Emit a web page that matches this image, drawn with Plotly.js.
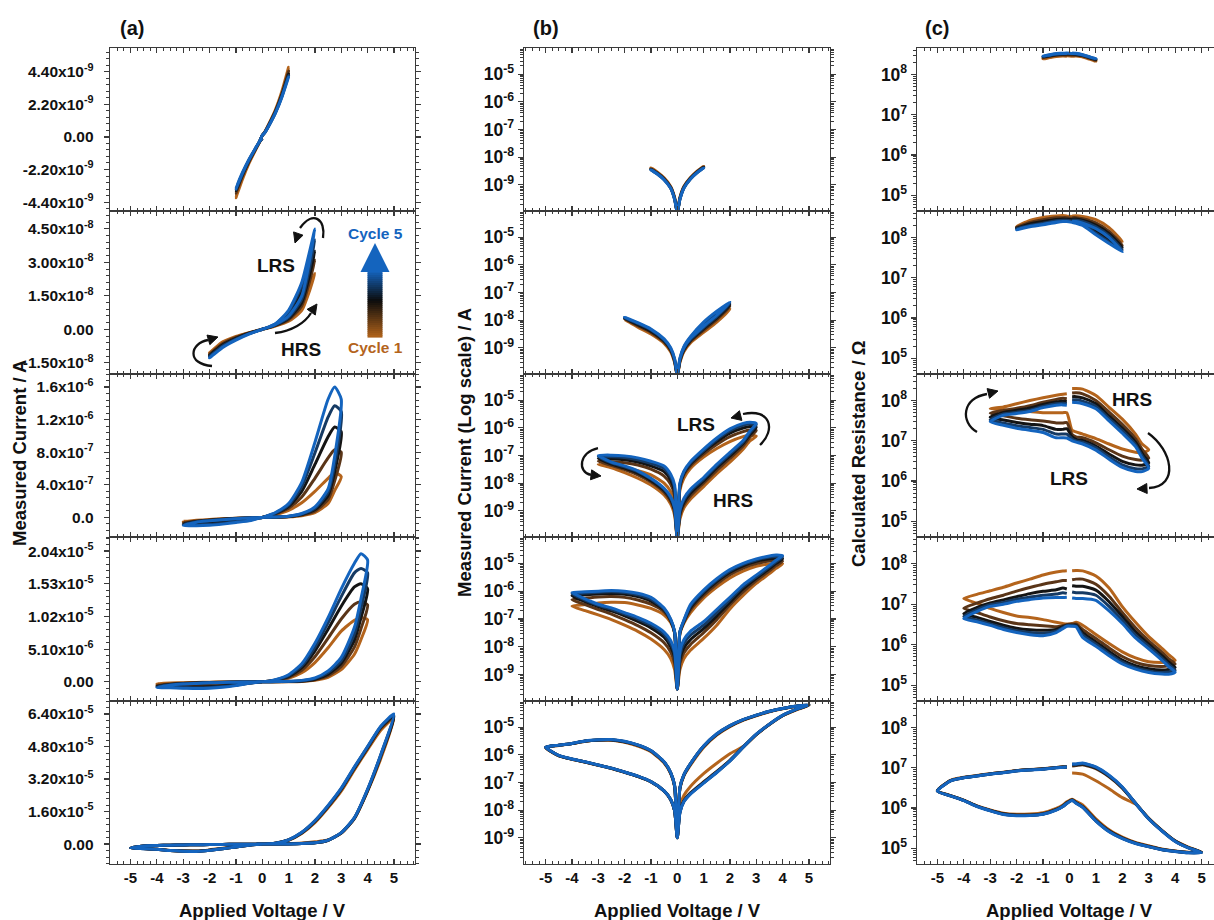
<!DOCTYPE html>
<html><head><meta charset="utf-8">
<script src="https://cdn.plot.ly/plotly-3.0.1.min.js"></script>
<style>html,body{margin:0;padding:0;background:#fff}#chart{width:1214px;height:920px}</style>
</head><body><div id="chart"></div>
<script>
// ================= DATA (applied voltage in V, measured current in nA) =================
const cycleNames = ['Cycle 1', 'Cycle 2', 'Cycle 3', 'Cycle 4', 'Cycle 5'];

// Row 1 : sweep to +/-1 V
const V1 = [0, .1, .25, .5, .75, 1, .75, .5, .25, .1, 0, -.1, -.25, -.5, -.75, -1, -.75, -.5, -.25, -.1, 0];
const I1_c1 = [0.1, 0.34, 0.86, 1.8, 3.05, 4.7, 3.1, 1.83, 0.87, 0.35, 0.1, -0.34, -0.86, -1.75, -2.8, -4.1, -2.85, -1.77, -0.87, -0.35, -0.1];
const I1_c2 = [0.1, 0.32, 0.82, 1.72, 2.9, 4.45, 2.93, 1.74, 0.83, 0.33, 0.1, -0.32, -0.81, -1.64, -2.62, -3.8, -2.65, -1.66, -0.82, -0.33, -0.1];
const I1_c3 = [0.1, 0.31, 0.78, 1.67, 2.8, 4.25, 2.83, 1.69, 0.79, 0.31, 0.1, -0.31, -0.78, -1.58, -2.52, -3.62, -2.55, -1.6, -0.78, -0.31, -0.1];
const I1_c4 = [0.1, 0.3, 0.76, 1.63, 2.74, 4.15, 2.77, 1.65, 0.77, 0.3, 0.1, -0.3, -0.76, -1.54, -2.46, -3.55, -2.49, -1.56, -0.76, -0.3, -0.1];
const I1_c5 = [0.1, 0.29, 0.74, 1.6, 2.7, 4.05, 2.73, 1.62, 0.75, 0.3, 0.1, -0.29, -0.74, -1.5, -2.4, -3.5, -2.44, -1.52, -0.75, -0.3, -0.1];

// Row 2 : sweep to +/-2 V
const V2 = [0, .1, .25, .5, 1, 1.5, 2, 1.5, 1, .5, .25, .1, 0, -.1, -.25, -.5, -1, -1.5, -2, -1.5, -1, -.5, -.25, -.1, 0];
const I2_c1 = [0.1, 0.29, 0.72, 1.5, 3.6, 8.5, 25, 12.5, 5.0, 1.7, 0.78, 0.3, 0.1, -0.29, -0.72, -1.48, -3.2, -5.7, -10.5, -5.6, -3.15, -1.45, -0.71, -0.29, -0.1];
const I2_c2 = [0.1, 0.32, 0.8, 1.7, 4.3, 10.5, 31, 15.5, 6.2, 1.95, 0.88, 0.33, 0.1, -0.32, -0.8, -1.65, -3.7, -6.4, -11.2, -6.3, -3.6, -1.62, -0.8, -0.32, -0.1];
const I2_c3 = [0.1, 0.35, 0.87, 1.85, 4.9, 12, 35, 17.5, 7.0, 2.15, 0.95, 0.36, 0.1, -0.35, -0.86, -1.8, -4.1, -7.0, -11.7, -6.9, -4.0, -1.77, -0.86, -0.35, -0.1];
const I2_c4 = [0.1, 0.37, 0.93, 2.0, 5.4, 13.5, 40, 19.5, 7.8, 2.35, 1.02, 0.39, 0.1, -0.37, -0.93, -1.95, -4.5, -7.6, -12.1, -7.5, -4.4, -1.92, -0.93, -0.37, -0.1];
const I2_c5 = [0.1, 0.4, 1.0, 2.2, 6.0, 15, 45, 21, 8.5, 2.5, 1.1, 0.42, 0.1, -0.4, -1.0, -2.1, -4.8, -8.1, -12.8, -8.0, -4.7, -2.05, -1.0, -0.4, -0.1];

// Row 3 : sweep to +/-3 V
const V3 = [0, .1, .25, .5, 1, 1.5, 2, 2.5, 2.75, 3, 2.75, 2.5, 2, 1.5, 1, .5, .25, .1, 0, -.1, -.25, -.5, -1, -1.5, -2, -2.5, -3, -2.5, -2, -1.5, -1, -.5, -.25, -.1, 0];
const I3_c1 = [0.1, 0.5, 1.25, 2.6, 7.5, 22, 58, 170, 330, 500, 550, 480, 320, 180, 88, 34, 15, 5.5, 0.1, -2, -5, -10, -20, -28, -36, -42, -48, -36, -24, -15, -8.5, -3.7, -1.75, -0.68, -0.1];
const I3_c2 = [0.1, 0.65, 1.6, 3.4, 10, 29, 78, 220, 450, 800, 830, 730, 480, 250, 112, 42, 20, 7, 0.1, -3.5, -9, -18, -32, -45, -55, -60, -62, -44, -31, -20, -11, -4.7, -2.2, -0.9, -0.1];
const I3_c3 = [0.1, 0.8, 2.0, 4.3, 12, 36, 96, 270, 560, 1050, 1110, 990, 650, 320, 135, 49, 23, 8, 0.1, -5, -13, -26, -42, -58, -70, -76, -78, -49, -35, -23, -12.5, -5.4, -2.6, -1.05, -0.1];
const I3_c4 = [0.1, 0.95, 2.4, 5.2, 14, 42, 112, 310, 650, 1300, 1370, 1230, 790, 380, 150, 54, 25, 9, 0.1, -6.8, -17, -34, -52, -70, -84, -90, -90, -54, -39, -26, -14, -6, -2.9, -1.2, -0.1];
const I3_c5 = [0.1, 1.1, 2.8, 6, 16, 48, 130, 350, 750, 1450, 1600, 1450, 920, 430, 170, 60, 27, 10, 0.1, -8.5, -21, -42, -62, -82, -97, -103, -100, -58, -42, -28, -15, -6.5, -3.2, -1.3, -0.1];

// Row 4 : sweep to +/-4 V
const V4 = [0, .1, .25, .5, 1, 1.5, 2, 2.5, 3, 3.5, 3.75, 4, 3.75, 3.5, 3, 2.5, 2, 1.5, 1, .5, .25, .1, 0, -.1, -.25, -.5, -1, -1.5, -2, -2.5, -3, -3.5, -4, -3.5, -3, -2.5, -2, -1.5, -1, -.5, -.25, -.1, 0];
const I4_c1 = [0.3, 1.5, 3.7, 7.5, 20, 60, 230, 700, 1900, 4300, 6600, 9700, 10000, 9600, 7900, 5300, 3000, 1400, 560, 165, 70, 30, 0.3, -31, -75, -140, -240, -320, -390, -400, -380, -330, -290, -200, -140, -95, -60, -36, -19, -8, -3.8, -1.5, -0.3];
const I4_c2 = [0.3, 2.5, 6, 12, 32, 95, 320, 950, 2400, 5400, 8300, 12000, 12500, 12100, 9800, 6800, 3900, 1800, 700, 210, 77, 31, 0.3, -32, -85, -180, -340, -480, -600, -640, -620, -560, -500, -330, -220, -150, -95, -58, -32, -14, -6.5, -2.6, -0.3];
const I4_c3 = [0.3, 3.5, 9, 18, 45, 130, 400, 1200, 2900, 6500, 10000, 14500, 15300, 14800, 11800, 8200, 4800, 2200, 850, 250, 82, 33, 0.3, -33, -90, -210, -440, -640, -780, -830, -800, -740, -680, -420, -280, -195, -130, -82, -48, -22, -10, -4.2, -0.3];
const I4_c4 = [0.3, 5, 13, 26, 60, 170, 500, 1450, 3300, 7500, 11500, 17000, 17700, 17000, 13300, 9200, 5400, 2500, 970, 290, 86, 34, 0.3, -34, -95, -230, -520, -750, -900, -950, -920, -860, -800, -480, -310, -225, -150, -100, -60, -28, -13, -5.4, -0.3];
const I4_c5 = [0.3, 7, 18, 36, 80, 220, 600, 1700, 3800, 8500, 13000, 19000, 20000, 18500, 14500, 10000, 6000, 2800, 1100, 330, 90, 35, 0.3, -35, -100, -250, -600, -850, -1000, -1050, -1000, -950, -900, -530, -340, -250, -170, -115, -70, -34, -17, -6.7, -0.3];

// Row 5 : sweep to +/-5 V
const V5 = [0, .1, .25, .5, 1, 1.5, 2, 2.5, 3, 3.5, 4, 4.5, 5, 4.5, 4, 3.5, 3, 2.5, 2, 1.5, 1, .5, .25, .1, 0, -.1, -.25, -.5, -1, -1.5, -2, -2.5, -3, -3.5, -4, -4.5, -5, -4.5, -4, -3.5, -3, -2.5, -2, -1.5, -1, -.5, -.25, -.1, 0];
const I5_c1 = [1, 13.5, 34, 72, 210, 500, 1100, 2000, 5400, 12500, 26000, 42000, 62000, 56000, 46500, 36500, 26000, 17800, 10500, 5200, 1850, 420, 170, 60, 1, -70, -210, -510, -1300, -2100, -2850, -3350, -3350, -3100, -2550, -2200, -1850, -920, -690, -545, -420, -322, -234, -166, -105, -49, -24, -9.4, -1];
const I5_c2 = [1, 9, 22, 42, 105, 250, 640, 1900, 5450, 12700, 26300, 43000, 62500, 57000, 47200, 37200, 26800, 18400, 11000, 5500, 2000, 460, 182, 62, 1, -74, -222, -540, -1380, -2220, -2970, -3470, -3430, -3130, -2570, -2220, -1870, -935, -698, -552, -423, -325, -236, -167, -106, -49.3, -24, -9.5, -1];
const I5_c3 = [1, 8.5, 21, 40, 100, 240, 620, 1900, 5500, 12800, 26500, 43500, 63000, 57500, 47500, 37500, 27000, 18600, 11200, 5600, 2040, 470, 185, 63, 1, -75, -225, -550, -1400, -2250, -3000, -3500, -3450, -3150, -2580, -2230, -1880, -940, -700, -555, -425, -326, -237, -168, -107, -49.5, -24, -9.5, -1];
const I5_c4 = [1, 8.2, 20.5, 39, 97, 235, 610, 1900, 5550, 12900, 26800, 43800, 63500, 57800, 47800, 37800, 27300, 18800, 11400, 5700, 2070, 475, 188, 64, 1, -76, -228, -555, -1415, -2280, -3060, -3560, -3480, -3180, -2590, -2240, -1890, -945, -705, -558, -428, -328, -238, -169, -107.5, -49.8, -24.2, -9.55, -1];
const I5_c5 = [1, 8, 20, 38, 95, 230, 600, 1900, 5600, 13000, 27000, 44000, 64000, 58000, 48000, 38000, 27500, 19000, 11500, 5800, 2100, 480, 190, 65, 1, -77, -230, -560, -1430, -2300, -3100, -3600, -3500, -3200, -2600, -2250, -1900, -950, -710, -560, -430, -330, -240, -170, -108, -50, -24.5, -9.6, -1];

// tick values / labels
const xTickVals = [-5, -4, -3, -2, -1, 0, 1, 2, 3, 4, 5];
const xTickText = ['-5', '-4', '-3', '-2', '-1', '0', '1', '2', '3', '4', '5'];
const aTickVals = [
  [-4.4e-9, -2.2e-9, 0, 2.2e-9, 4.4e-9],
  [-1.5e-8, 0, 1.5e-8, 3.0e-8, 4.5e-8],
  [0, 4e-7, 8e-7, 1.2e-6, 1.6e-6],
  [0, 5.1e-6, 1.02e-5, 1.53e-5, 2.04e-5],
  [0, 1.6e-5, 3.2e-5, 4.8e-5, 6.4e-5]
];
const aTickText = [
  ['-4.40x10<sup>-9</sup>', '-2.20x10<sup>-9</sup>', '0.00', '2.20x10<sup>-9</sup>', '4.40x10<sup>-9</sup>'],
  ['-1.50x10<sup>-8</sup>', '0.00', '1.50x10<sup>-8</sup>', '3.00x10<sup>-8</sup>', '4.50x10<sup>-8</sup>'],
  ['0.0', '4.0x10<sup>-7</sup>', '8.0x10<sup>-7</sup>', '1.2x10<sup>-6</sup>', '1.6x10<sup>-6</sup>'],
  ['0.00', '5.10x10<sup>-6</sup>', '1.02x10<sup>-5</sup>', '1.53x10<sup>-5</sup>', '2.04x10<sup>-5</sup>'],
  ['0.00', '1.60x10<sup>-5</sup>', '3.20x10<sup>-5</sup>', '4.80x10<sup>-5</sup>', '6.40x10<sup>-5</sup>']
];
const bTickVals = [1e-9, 1e-8, 1e-7, 1e-6, 1e-5];
const bTickText = ['10<sup>-9</sup>', '10<sup>-8</sup>', '10<sup>-7</sup>', '10<sup>-6</sup>', '10<sup>-5</sup>'];
const cTickVals = [1e5, 1e6, 1e7, 1e8];
const cTickText = ['10<sup>5</sup>', '10<sup>6</sup>', '10<sup>7</sup>', '10<sup>8</sup>'];

// ================= STYLE / LAYOUT =================
const W = 1214, H = 920;
const FONT = 'Liberation Sans, Arial, Helvetica, sans-serif';
const colors = ['#B4641C', '#5A3518', '#141414', '#163A63', '#1464BE'];
const rowsData = [
  { V: V1, I: [I1_c1, I1_c2, I1_c3, I1_c4, I1_c5] },
  { V: V2, I: [I2_c1, I2_c2, I2_c3, I2_c4, I2_c5] },
  { V: V3, I: [I3_c1, I3_c2, I3_c3, I3_c4, I3_c5] },
  { V: V4, I: [I4_c1, I4_c2, I4_c3, I4_c4, I4_c5] },
  { V: V5, I: [I5_c1, I5_c2, I5_c3, I5_c4, I5_c5] }
];
const xPix = [[110, 415], [524, 830], [917, 1214]];
const yPix = [[48, 211], [211, 374], [374, 537], [537, 701], [701, 864]];
const xRanges = [[-5.78, 5.8], [-5.82, 5.8], [-5.77, 5.47]];
const aRanges = [[-5.0e-9, 6.0e-9], [-2.0e-8, 5.3e-8], [-2.4e-7, 1.76e-6], [-3.0e-6, 2.26e-5], [-9.8e-6, 7.04e-5]];
const aMinor = [0.44e-9, 0.3e-8, 0.8e-7, 1.02e-6, 3.2e-6];
const bRange = [-9.95, -4.05];
const cRange = [4.61, 8.66];
const bold = t => '<b>' + t + '</b>';

const traces = [];
const layout = {
  width: W, height: H, margin: { l: 0, r: 0, t: 0, b: 0 },
  paper_bgcolor: '#fff', plot_bgcolor: '#fff', showlegend: false,
  font: { family: FONT, size: 14, color: '#111' },
  annotations: [], shapes: []
};
const AX = '#3a3a3a';
const tf = s => ({ family: FONT, size: s, color: '#111', weight: 'bold' });

for (let r = 0; r < 5; r++) {
  const rd = rowsData[r];
  for (let c = 0; c < 3; c++) {
    const k = r * 3 + c + 1;
    const xa = 'x' + k, ya = 'y' + k;
    for (let cy = 0; cy < 5; cy++) {
      const cur = rd.I[cy].map(v => v * 1e-9);
      let xs = [], ys = [];
      if (c === 0) { xs = rd.V; ys = cur; }
      else if (c === 1) { xs = rd.V; ys = cur.map(v => Math.abs(v)); }
      else {
        rd.V.forEach((v, i) => { if (v !== 0) { xs.push(v); ys.push(Math.abs(v / cur[i])); } });
      }
      traces.push({
        x: xs, y: ys, xaxis: xa, yaxis: ya, type: 'scatter', mode: 'lines', name: cycleNames[cy],
        line: { color: colors[cy], width: 3, shape: 'spline', smoothing: 0.6 }, hoverinfo: 'skip'
      });
    }
    const xKey = 'xaxis' + (k === 1 ? '' : k), yKey = 'yaxis' + (k === 1 ? '' : k);
    const xa_ = {
      domain: [xPix[c][0] / W, xPix[c][1] / W], range: xRanges[c], anchor: ya,
      showline: true, mirror: 'ticks', linecolor: AX, linewidth: 1.3,
      ticks: 'inside', ticklen: 5, tickwidth: 1.2, tickcolor: AX,
      showgrid: false, zeroline: false, tickfont: tf(15),
      minor: { ticks: 'inside', ticklen: 3, tickwidth: 1, tickcolor: AX, tick0: 0, dtick: 0.25, showgrid: false }
    };
    if (r === 4) {
      Object.assign(xa_, { tickmode: 'array', tickvals: xTickVals, ticktext: xTickText.map(bold), showticklabels: true });
    } else {
      Object.assign(xa_, { tickmode: 'linear', tick0: 0, dtick: 1, showticklabels: false });
    }
    layout[xKey] = xa_;
    const yDom = [1 - yPix[r][1] / H, 1 - yPix[r][0] / H];
    const yBase = {
      domain: yDom, anchor: xa, showline: true, mirror: 'ticks', linecolor: AX, linewidth: 1.3,
      ticks: 'outside', ticklen: 5, tickwidth: 1.2, tickcolor: AX, showgrid: false, zeroline: false,
      tickmode: 'array'
    };
    if (c === 0) {
      layout[yKey] = Object.assign({}, yBase, {
        range: aRanges[r], tickvals: aTickVals[r], ticktext: aTickText[r].map(bold), ticklabelstandoff: 7,
        tickfont: tf(15.5),
        minor: { ticks: 'outside', ticklen: 3, tickwidth: 1, tickcolor: AX, tick0: 0, dtick: aMinor[r], showgrid: false }
      });
    } else if (c === 1) {
      layout[yKey] = Object.assign({}, yBase, {
        type: 'log', range: bRange, tickvals: bTickVals, ticktext: bTickText.map(bold), tickfont: tf(17.5),
        minor: { ticks: 'outside', ticklen: 3, tickwidth: 1, tickcolor: AX, dtick: 'D1', showgrid: false }
      });
    } else {
      layout[yKey] = Object.assign({}, yBase, {
        type: 'log', range: cRange, tickvals: cTickVals, ticktext: cTickText.map(bold), tickfont: tf(17.5),
        minor: { ticks: 'outside', ticklen: 3, tickwidth: 1, tickcolor: AX, dtick: 'D1', showgrid: false }
      });
    }
  }
}

// ---------- text annotations (pixel positions converted to paper) ----------
function txt(text, x, y, size, color, angle) {
  layout.annotations.push({
    text: '<b>' + text + '</b>', x: x / W, y: 1 - y / H, xref: 'paper', yref: 'paper', showarrow: false,
    xanchor: 'center', yanchor: 'middle', textangle: angle || 0,
    font: { family: FONT, size: size, color: color || '#111', weight: 'bold' }
  });
}
txt('(a)', 132, 28, 20); txt('(b)', 546, 28, 20); txt('(c)', 937, 28, 20);
txt('Measured Current / A', 19, 453, 18.5, '#111', -90);
txt('Measured Current (Log scale) / A', 464, 453, 18.5, '#111', -90);
txt('Calculated Resistance / \u03A9', 859, 454, 18.5, '#111', -90);
txt('Applied Voltage / V', 262, 910, 18.5);
txt('Applied Voltage / V', 677, 910, 18.5);
txt('Applied Voltage / V', 1069, 910, 18.5);
txt('LRS', 276, 265, 19); txt('HRS', 301, 349, 19);
txt('Cycle 5', 375, 233, 15.5, '#1464BE'); txt('Cycle 1', 375, 347, 15.5, '#B4641C');
txt('LRS', 696, 425, 19); txt('HRS', 733, 500, 19);
txt('HRS', 1132, 400, 19); txt('LRS', 1069, 478, 19);

// ---------- curved arrows ----------
function pp(x, y) { return (x / W).toFixed(5) + ',' + (1 - y / H).toFixed(5); }
function curve(p0, c1, c2, p1) {
  layout.shapes.push({
    type: 'path', xref: 'paper', yref: 'paper', layer: 'above',
    path: 'M' + pp(p0[0], p0[1]) + ' C' + pp(c1[0], c1[1]) + ' ' + pp(c2[0], c2[1]) + ' ' + pp(p1[0], p1[1]),
    line: { color: '#111', width: 2.3 }
  });
}
function head(tip, dir, len, hw) {
  len = len || 10; hw = hw || 5;
  const n = Math.hypot(dir[0], dir[1]); const dx = dir[0] / n, dy = dir[1] / n;
  const bx = tip[0] - dx * len, by = tip[1] - dy * len;
  const ax = bx - dy * hw, ay = by + dx * hw, cx = bx + dy * hw, cy = by - dx * hw;
  layout.shapes.push({
    type: 'path', xref: 'paper', yref: 'paper', layer: 'above',
    path: 'M' + pp(tip[0], tip[1]) + ' L' + pp(ax, ay) + ' L' + pp(cx, cy) + ' Z',
    fillcolor: '#111', line: { color: '#111', width: 1 }
  });
}
// panel (a) row 2
curve([323, 238], [326, 219], [313, 210], [300, 228]); head([295, 243], [-0.35, 1]);
curve([275, 333], [292, 331], [305, 323], [311, 313]); head([317, 304], [0.6, -0.85]);
curve([212, 366], [186, 364], [190, 343], [208, 340]); head([218, 337], [1, -0.3]);
// panel (b) row 3
curve([760, 445], [776, 430], [771, 408], [743, 414]); head([731, 418], [-1, 0.25]);
curve([598, 448], [579, 452], [577, 472], [591, 475]); head([601, 476], [1, 0.12]);
// panel (c) row 3
curve([977, 432], [960, 422], [962, 398], [987, 394]); head([998, 391], [1, -0.25]);
curve([1148, 433], [1172, 450], [1180, 486], [1149, 488]); head([1137, 489], [-1, 0.05]);

// ---------- gradient "Cycle 1 -> Cycle 5" arrow ----------
(function () {
  const top = 271, bot = 337, N = 33, stops = [[0, [20, 100, 190]], [0.45, [12, 12, 12]], [1, [176, 98, 26]]];
  function col(t) {
    for (let i = 0; i < stops.length - 1; i++) {
      const a = stops[i], b = stops[i + 1];
      if (t >= a[0] && t <= b[0]) {
        const f = (t - a[0]) / (b[0] - a[0]);
        const c = a[1].map((v, j) => Math.round(v + (b[1][j] - v) * f));
        return 'rgb(' + c.join(',') + ')';
      }
    }
    return 'rgb(176,98,26)';
  }
  const h = (bot - top) / N;
  for (let i = 0; i < N; i++) {
    const y0 = top + i * h, y1 = y0 + h + 0.6;
    layout.shapes.push({
      type: 'rect', xref: 'paper', yref: 'paper', layer: 'above',
      x0: 367.5 / W, x1: 382.5 / W, y0: 1 - y1 / H, y1: 1 - y0 / H,
      fillcolor: col((i + 0.5) / N), line: { width: 0 }
    });
  }
  layout.shapes.push({
    type: 'path', xref: 'paper', yref: 'paper', layer: 'above',
    path: 'M' + pp(375, 243) + ' L' + pp(389.5, 272) + ' L' + pp(360.5, 272) + ' Z',
    fillcolor: 'rgb(20,100,190)', line: { width: 0 }
  });
})();

Plotly.newPlot('chart', traces, layout, { displayModeBar: false, staticPlot: true });
</script>
</body></html>
